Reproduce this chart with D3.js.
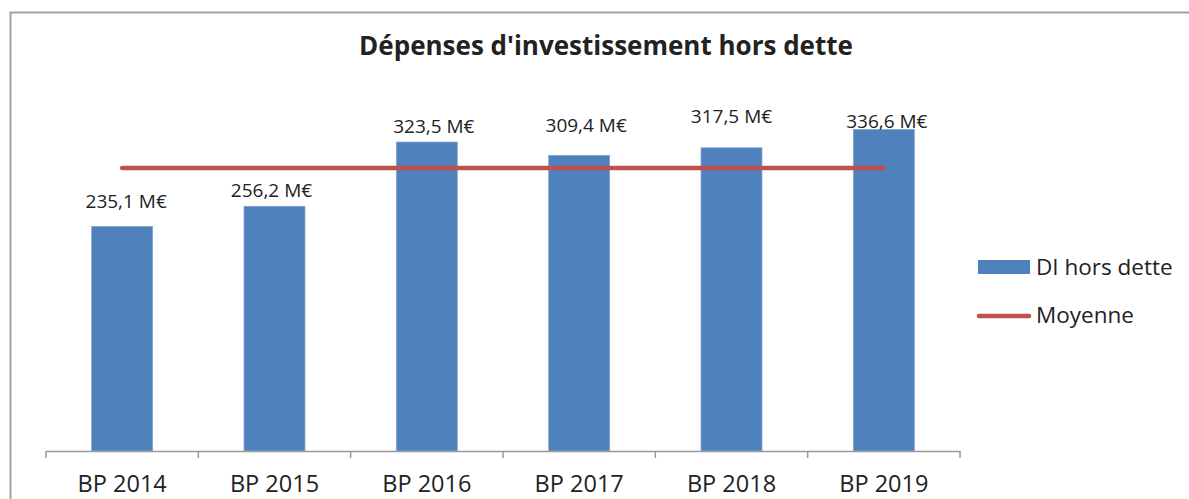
<!DOCTYPE html>
<html>
<head>
<meta charset="utf-8">
<style>
  body { margin: 0; background: #fff; }
  svg { display: block; font-family: 'Open Sans', sans-serif; }
</style>
</head>
<body>
<svg width="1189" height="499"></svg>
<script src="https://d3js.org/d3.v7.min.js"></script>
<script>
  // data
  let categories = ["BP 2014", "BP 2015", "BP 2016", "BP 2017", "BP 2018", "BP 2019"]
  let diHorsDette = [235.1, 256.2, 323.5, 309.4, 317.5, 336.6]
  let moyenne = [296.4, 296.4, 296.4, 296.4, 296.4, 296.4]
  let valueLabels = ["235,1 M€", "256,2 M€", "323,5 M€", "309,4 M€", "317,5 M€", "336,6 M€"]
  let legendNames = ["DI hors dette", "Moyenne"]

  // labels were moved by hand in the original, so keep their nudges apart
  let labelGap = [18, 9, 9, 24, 25, 2]
  let labelDx = [4, -3, 7, 7, 0, 3]

  let blue = "#4f81bd"
  let red = "#c0504d"

  let svg = d3.select("svg")

  // frame
  svg.append("rect")
    .attr("x", 10.5).attr("y", 12.5)
    .attr("width", 1200).attr("height", 500)
    .style("fill", "none")
    .style("stroke", "#a0a0a0")
    .style("stroke-width", 2)

  svg.append("text")
    .text("Dépenses d'investissement hors dette")
    .attr("x", 606).attr("y", 55)
    .attr("text-anchor", "middle")
    .style("font-weight", "bold")
    .style("font-size", "26px")
    .style("fill", "#222")

  let x = d3.scaleBand()
    .domain(categories)
    .range([46, 960])
    .paddingInner(0.6)
    .paddingOuter(0.3)

  let y = d3.scaleLinear()
    .domain([0, 400])
    .range([451, 69])

  // bars
  svg.selectAll(".bar")
    .data(diHorsDette)
    .join("rect")
    .attr("class", "bar")
    .attr("x", (d, i) => x(categories[i]))
    .attr("y", d => y(d))
    .attr("width", x.bandwidth())
    .attr("height", d => y(0) - y(d))
    .style("fill", blue)
    .style("stroke", "#7ea3d2")
    .style("stroke-width", 0.8)

  // axis line + ticks on category boundaries
  let axis = d3.axisBottom(x).tickSize(0).tickPadding(24)
  let gx = svg.append("g")
    .attr("transform", "translate(0," + y(0) + ")")
    .call(axis)
  gx.select(".domain").style("stroke", "#999").style("stroke-width", 1.5)
  gx.selectAll("text")
    .style("font-size", "23.5px")
    .style("font-family", "'Open Sans', sans-serif")
    .style("fill", "#222")

  let bounds = d3.range(categories.length + 1).map(i => x.range()[0] + i * x.step())
  gx.selectAll(".btick")
    .data(bounds)
    .join("line")
    .attr("class", "btick")
    .attr("x1", d => d).attr("x2", d => d)
    .attr("y1", 0).attr("y2", 7)
    .style("stroke", "#999")
    .style("stroke-width", 1.5)

  // average line
  let line = d3.line()
    .x((d, i) => x(categories[i]) + x.bandwidth() / 2)
    .y(d => y(d))

  svg.append("path")
    .datum(moyenne)
    .attr("d", line)
    .style("fill", "none")
    .style("stroke", red)
    .style("stroke-width", 4.5)
    .style("stroke-linecap", "round")

  // value labels
  svg.selectAll(".vlabel")
    .data(diHorsDette)
    .join("text")
    .attr("class", "vlabel")
    .text((d, i) => valueLabels[i])
    .attr("x", (d, i) => x(categories[i]) + x.bandwidth() / 2 + labelDx[i])
    .attr("y", (d, i) => y(d) - labelGap[i])
    .attr("text-anchor", "middle")
    .style("font-size", "19px")
    .style("fill", "#222")

  // legend
  let legend = svg.append("g")
  legend.append("rect")
    .attr("x", 978).attr("y", 260)
    .attr("width", 52).attr("height", 14)
    .style("fill", blue)
  legend.append("line")
    .attr("x1", 979).attr("x2", 1029)
    .attr("y1", 316).attr("y2", 316)
    .style("stroke", red)
    .style("stroke-width", 4.5)
    .style("stroke-linecap", "round")
  legend.selectAll(".ltext")
    .data(legendNames)
    .join("text")
    .attr("class", "ltext")
    .text(d => d)
    .attr("x", 1036)
    .attr("y", (d, i) => 275 + i * 48)
    .style("font-size", "22.5px")
    .style("fill", "#222")
</script>
</body>
</html>
